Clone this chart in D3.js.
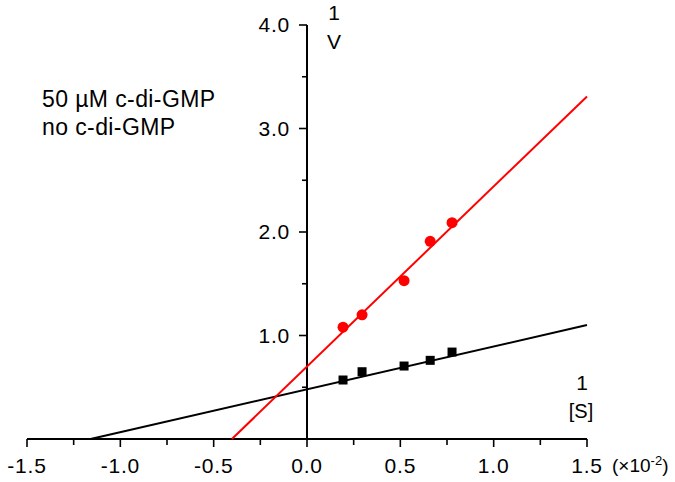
<!DOCTYPE html>
<html><head><meta charset="utf-8">
<script src="https://cdn.jsdelivr.net/npm/d3@7"></script>
<style>body{margin:0;background:#fff}svg{display:block}text{font-family:"Liberation Sans",Arial,sans-serif;}</style>
</head><body><svg id="c" width="675" height="482"></svg>
<script>
const invS = [0.193, 0.295, 0.52, 0.66, 0.777];
const withCdG = [1.08, 1.20, 1.53, 1.91, 2.09];
const noCdG = [0.57, 0.65, 0.705, 0.76, 0.84];
const fitWith = [0.70, 1.74]; // intercept, slope
const fitNo = [0.48, 0.414];
const xTicks = [-1.5, -1.0, -0.5, 0.0, 0.5, 1.0, 1.5];
const yTicks = [1.0, 2.0, 3.0, 4.0];
const legendLabels = ["50 µM c-di-GMP", "no c-di-GMP"];

const svg = d3.select("#c");
const x = d3.scaleLinear().domain([-1.5, 1.5]).range([27, 587]);
const y = d3.scaleLinear().domain([0, 4]).range([439, 25]);

// x axis
const gx = svg.append("g").attr("transform", `translate(0,${y(0)})`);
gx.append("line").attr("x1", x(-1.5)).attr("x2", x(1.5)).attr("stroke", "#000").attr("stroke-width", 2);
d3.range(-1.5, 1.5001, 0.25).forEach(v => {
  const major = Math.abs(v * 2 - Math.round(v * 2)) < 1e-6;
  gx.append("line").attr("x1", x(v)).attr("x2", x(v)).attr("y1", 0).attr("y2", major ? 8 : 6)
    .attr("stroke", "#000").attr("stroke-width", 1.6);
});
xTicks.forEach(v => {
  gx.append("text").attr("x", x(v)).attr("y", 34).attr("text-anchor", "middle")
    .attr("font-size", 21).attr("letter-spacing", 0.8).text(d3.format(".1f")(v).replace("−", "-"));
});
const unit = gx.append("text").attr("x", x(1.5) + 25).attr("y", 33).attr("font-size", 19);
unit.append("tspan").text("(×10");
unit.append("tspan").attr("dy", -7).attr("font-size", 13).text("-2");
unit.append("tspan").attr("dy", 7).text(")");

// y axis
const gy = svg.append("g").attr("transform", `translate(${x(0)},0)`);
gy.append("line").attr("y1", y(0)).attr("y2", y(4)).attr("stroke", "#000").attr("stroke-width", 2);
d3.range(0.5, 4.001, 0.5).forEach(v => {
  const major = Math.abs(v - Math.round(v)) < 1e-6;
  gy.append("line").attr("x1", 0).attr("x2", major ? -8 : -5).attr("y1", y(v)).attr("y2", y(v))
    .attr("stroke", "#000").attr("stroke-width", 1.6);
});
yTicks.forEach(v => {
  gy.append("text").attr("x", -17).attr("y", y(v) + 7).attr("text-anchor", "end")
    .attr("font-size", 21).attr("letter-spacing", 0.8).text(d3.format(".1f")(v));
});

// axis titles
svg.append("text").attr("x", x(0) + 27).attr("y", 20).attr("text-anchor", "middle").attr("font-size", 21).text("1");
svg.append("text").attr("x", x(0) + 27).attr("y", 49).attr("text-anchor", "middle").attr("font-size", 21).text("V");
svg.append("text").attr("x", 582).attr("y", 390).attr("text-anchor", "middle").attr("font-size", 21).text("1");
svg.append("text").attr("x", 581).attr("y", 418).attr("text-anchor", "middle").attr("font-size", 20).text("[S]");

// fit lines
function fitLine(f, color) {
  const x0 = -f[0] / f[1];
  svg.append("line").attr("x1", x(x0)).attr("y1", y(0)).attr("x2", x(1.5)).attr("y2", y(f[0] + f[1] * 1.5))
    .attr("stroke", color).attr("stroke-width", 2);
}
fitLine(fitNo, "#000");
fitLine(fitWith, "#ff0000");

// points
svg.selectAll("rect.p").data(invS.map((v, i) => [v, noCdG[i]])).enter().append("rect")
  .attr("x", d => x(d[0]) - 4.5).attr("y", d => y(d[1]) - 4.5).attr("width", 9).attr("height", 9).attr("fill", "#000");
svg.selectAll("circle.p").data(invS.map((v, i) => [v, withCdG[i]])).enter().append("circle")
  .attr("cx", d => x(d[0])).attr("cy", d => y(d[1])).attr("r", 5.5).attr("fill", "#ff0000");

// legend
legendLabels.forEach((t, i) => {
  svg.append("text").attr("x", 42).attr("y", 107 + i * 28).attr("font-size", 23).attr("letter-spacing", 0.4).text(t);
});
</script></body></html>
